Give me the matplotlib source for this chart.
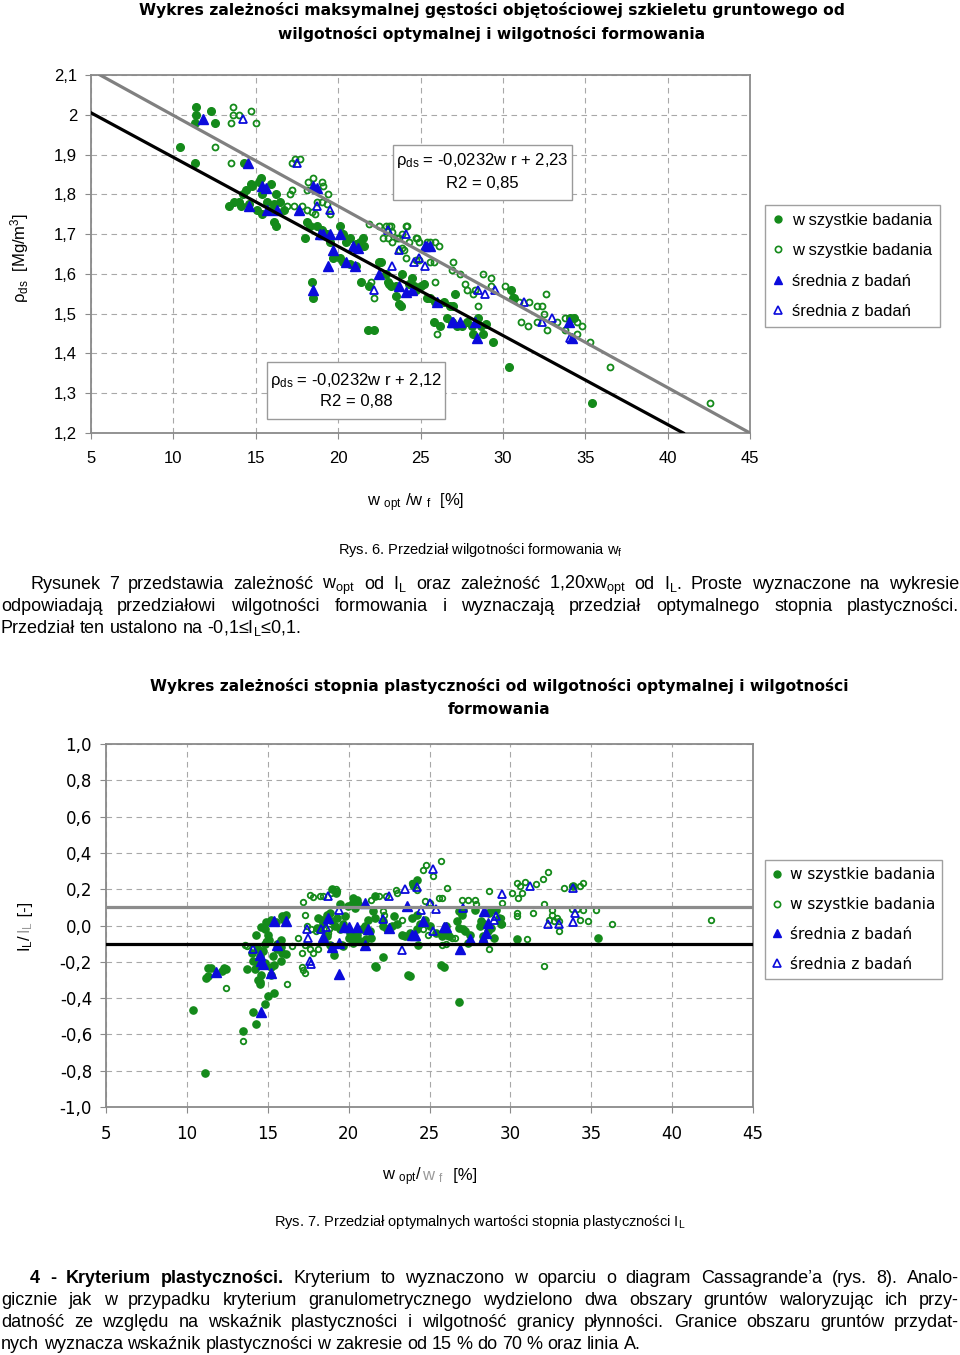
import numpy as np
import matplotlib
matplotlib.use('Agg')
import matplotlib.pyplot as plt
from matplotlib.lines import Line2D
from matplotlib.patches import Rectangle

plt.rcParams['mathtext.default'] = 'regular'

###--- Data ---###
x_ticks = [5, 10, 15, 20, 25, 30, 35, 40, 45]
x_ticklabels = ['5', '10', '15', '20', '25', '30', '35', '40', '45']

y1_ticks = [1.2, 1.3, 1.4, 1.5, 1.6, 1.7, 1.8, 1.9, 2.0, 2.1]
y1_labels = ['1,2', '1,3', '1,4', '1,5', '1,6', '1,7', '1,8', '1,9', '2', '2,1']

y2_ticks = [-1.0, -0.8, -0.6, -0.4, -0.2, 0.0, 0.2, 0.4, 0.6, 0.8, 1.0]
y2_labels = ['-1,0', '-0,8', '-0,6', '-0,4', '-0,2', '0,0', '0,2', '0,4', '0,6', '0,8', '1,0']

legend_labels = ['w szystkie badania', 'w szystkie badania', 'średnia z badań', 'średnia z badań']

# Rys. 6 - maximum dry density vs moisture
r6_all_x = [11.4, 11.4, 12.3, 11.3, 12.5, 10.4, 11.3, 14.3, 15.3, 15.2, 14.7, 14.4, 14.8, 15.9, 15.4, 14.2,
            16.2, 14.0, 13.7, 13.4, 14.1, 14.6, 15.1, 15.4, 15.9, 16.1, 15.7, 16.1, 16.2, 16.5, 16.7, 18.0,
            18.1, 18.3, 18.7, 19.0, 19.3, 19.5, 20.1, 20.3, 20.5, 20.7, 21.1, 21.3, 21.5, 21.6, 19.7, 20.1,
            20.3, 20.7, 21.1, 21.4, 21.9, 22.5, 22.9, 23.1, 23.5, 23.9, 23.7, 24.3, 24.7, 25.2, 18.4, 18.5,
            23.8, 23.5, 24.5, 24.6, 25.0, 23.0, 23.2, 22.6,
            25.4, 25.6, 25.9, 26.4, 26.8, 27.0, 27.1, 25.8, 26.2, 26.6, 26.9, 27.2, 27.5, 27.8, 28.1, 28.2,
            28.5, 28.7, 28.8, 29.0, 29.4, 30.5, 30.6, 30.7, 34.1, 34.3, 30.4, 35.4, 21.8, 22.2]
r6_all_y = [2.02, 2.00, 2.01, 1.98, 1.98, 1.92, 1.88, 1.88, 1.84, 1.83, 1.825, 1.81, 1.82, 1.825, 1.80, 1.80,
            1.80, 1.78, 1.78, 1.77, 1.77, 1.775, 1.76, 1.75, 1.76, 1.775, 1.78, 1.73, 1.72, 1.78, 1.76, 1.69,
            1.73, 1.72, 1.72, 1.71, 1.70, 1.68, 1.72, 1.70, 1.68, 1.69, 1.675, 1.68, 1.69, 1.67, 1.64, 1.64,
            1.63, 1.625, 1.62, 1.58, 1.57, 1.63, 1.60, 1.575, 1.57, 1.60, 1.525, 1.575, 1.56, 1.575, 1.58, 1.54,
            1.52, 1.545, 1.59, 1.57, 1.57, 1.58, 1.57, 1.63,
            1.54, 1.54, 1.53, 1.53, 1.52, 1.52, 1.55, 1.48, 1.47, 1.49, 1.48, 1.47, 1.47, 1.48, 1.47, 1.45,
            1.49, 1.47, 1.45, 1.475, 1.43, 1.56, 1.54, 1.54, 1.49, 1.49, 1.365, 1.275, 1.46, 1.46]

r6_form_x = [13.6, 13.6, 14.0, 14.7, 13.5, 15.0, 12.5, 13.5, 17.4, 17.2, 17.7, 18.2, 18.5, 19.0, 19.1, 19.4,
             18.1, 17.2, 17.1, 16.9, 17.3, 17.8, 18.1, 18.4, 18.7, 19.0, 19.3, 19.5, 18.6, 21.9, 22.5, 22.9,
             23.1, 23.3, 23.9, 24.1, 23.7, 22.7, 23.9, 24.3, 24.7, 24.9, 24.1, 24.7, 23.7, 24.9, 25.4, 22.0,
             22.2, 23.2, 24.2, 23.0, 23.3, 23.6, 24.0, 24.8,
             25.6, 25.9, 26.1, 25.6, 25.8, 27.0, 26.9, 27.4, 25.9, 27.7, 27.8, 28.2, 28.3, 28.8, 29.3, 29.3,
             30.1, 28.5, 31.0, 31.6, 32.1, 32.4, 32.6, 31.1, 31.5, 32.1, 32.5, 32.7, 33.3, 33.8, 33.8, 34.5,
             34.8, 34.5, 35.3, 36.5, 42.6, 26.0]
r6_form_y = [2.02, 2.00, 2.00, 2.01, 1.98, 1.98, 1.92, 1.88, 1.89, 1.88, 1.89, 1.83, 1.84, 1.83, 1.82, 1.80,
             1.81, 1.81, 1.80, 1.77, 1.77, 1.77, 1.76, 1.755, 1.78, 1.78, 1.775, 1.75, 1.75, 1.725, 1.72, 1.72,
             1.72, 1.705, 1.70, 1.72, 1.69, 1.69, 1.665, 1.68, 1.69, 1.68, 1.64, 1.635, 1.66, 1.635, 1.68, 1.58,
             1.54, 1.72, 1.72, 1.69, 1.68, 1.69, 1.66, 1.69,
             1.68, 1.68, 1.67, 1.63, 1.63, 1.63, 1.61, 1.60, 1.58, 1.575, 1.56, 1.55, 1.56, 1.60, 1.59, 1.57,
             1.57, 1.52, 1.53, 1.53, 1.52, 1.52, 1.55, 1.48, 1.47, 1.48, 1.50, 1.46, 1.48, 1.49, 1.46, 1.48,
             1.47, 1.45, 1.43, 1.365, 1.275, 1.45]

r6_mean_x = [11.8, 14.5, 15.4, 15.6, 14.6, 15.7, 16.3, 17.6, 18.5, 18.7, 18.9, 19.1, 19.5, 20.1, 19.7, 19.4,
             20.5, 21.0, 20.9, 21.2, 18.5, 22.5, 23.7, 24.1, 24.5, 25.6, 25.3, 26.0, 26.9, 27.4, 28.3, 28.4,
             34.0, 34.2, 27.0]
r6_mean_y = [1.99, 1.88, 1.82, 1.815, 1.77, 1.76, 1.76, 1.76, 1.82, 1.815, 1.70, 1.70, 1.70, 1.70, 1.66, 1.62,
             1.63, 1.62, 1.67, 1.665, 1.56, 1.60, 1.57, 1.555, 1.56, 1.67, 1.67, 1.53, 1.48, 1.48, 1.48, 1.44,
             1.48, 1.44, 1.48]

r6_meanf_x = [14.2, 17.5, 18.7, 19.5, 23.3, 23.7, 24.1, 22.2, 24.9, 25.3, 25.4, 28.5, 28.9, 29.5, 31.3, 32.4,
              33.0, 34.1, 23.0, 24.6]
r6_meanf_y = [1.99, 1.88, 1.77, 1.76, 1.62, 1.66, 1.70, 1.56, 1.64, 1.62, 1.67, 1.56, 1.55, 1.56, 1.53, 1.48,
              1.49, 1.44, 1.71, 1.63]

# trend lines (end points)
r6_line_f_x = [5.55, 45.0]
r6_line_f_y = [2.10, 1.20]
r6_line_o_x = [5.0, 40.95]
r6_line_o_y = [2.005, 1.20]

# Rys. 7 - liquidity index vs moisture
r7_all_x = [10.4, 11.1, 11.3, 11.5, 11.2, 11.3, 12.3, 12.4, 12.2, 13.5, 14.1, 14.3, 14.8, 15.0, 15.4, 14.4,
            14.5, 14.6, 14.5, 15.2, 15.2, 15.4, 13.7, 14.2, 14.4, 14.8, 14.1, 14.5, 14.0, 14.4, 14.7, 15.3,
            15.8, 15.9, 16.1, 15.6, 15.8, 14.3, 14.6, 14.9, 15.2, 15.5, 15.9, 16.0, 16.1, 14.8, 15.0, 15.1,
            14.8, 15.8, 15.6,
            18.13, 18.33, 18.44, 18.02, 18.23, 18.64, 18.85, 18.95, 19.26, 19.16, 19.47, 19.67, 19.77, 19.98,
            20.19, 20.39, 20.6, 20.5, 19.47, 18.64, 18.85, 19.1,
            20.08, 20.29, 20.49, 20.8, 21.0, 21.3, 21.4, 21.1, 20.7, 20.3, 20.0, 19.57, 19.67, 21.2, 21.6,
            21.5, 21.6, 22.1,
            22.1, 22.4, 22.7, 23.0, 23.3, 23.5, 23.8, 24.2, 24.3, 24.4, 24.7, 25.0, 25.4, 25.8, 22.1, 22.8,
            23.9, 24.2, 23.7, 25.7, 21.7, 23.8, 25.9, 26.8,
            19.0, 19.2, 20.3, 21.6, 24.2, 24.0,
            26.0, 26.1, 26.2, 26.7, 26.8, 27.0, 27.1, 26.8, 27.1, 27.2, 27.4, 27.5, 27.8, 28.1, 28.2, 28.3,
            28.4, 28.7, 28.8, 28.8, 29.0, 29.1, 29.3, 29.4, 28.6, 28.3, 30.4, 35.4, 33.9]
r7_all_y = [-0.466, -0.81, -0.233, -0.233, -0.29, -0.28, -0.235, -0.24, -0.25, -0.58, -0.475, -0.54, -0.43,
            -0.39, -0.37, -0.30, -0.31, -0.275, -0.32, -0.275, -0.23, -0.215, -0.24, -0.24, -0.215, -0.205,
            -0.195, -0.17, -0.15, -0.13, -0.14, -0.17, -0.195, -0.15, -0.155, -0.13, -0.12, -0.05, -0.01,
            0.02, 0.03, 0.02, 0.05, 0.03, 0.06, -0.02, -0.05, -0.08, -0.10, -0.08, -0.10,
            0.042, 0.033, 0.006, -0.013, -0.022, 0.06, 0.07, 0.024, 0.042, -0.004, -0.022, 0.011, 0.051,
            0.106, 0.116, 0.097, 0.116, 0.143, 0.116, -0.059, -0.105, -0.165,
            -0.04, -0.068, -0.05, -0.022, -0.004, -0.031, -0.068, -0.077, -0.086, -0.095, -0.068, -0.105,
            -0.114, 0.033, 0.042, 0.079, -0.224, -0.172,
            -0.004, -0.022, -0.004, 0.006, -0.05, -0.059, -0.04, -0.022, -0.11, 0.006, 0.033, -0.004, -0.04,
            -0.059, 0.024, 0.051, 0.042, 0.06, -0.275, -0.215, -0.23, -0.28, -0.226, -0.42,
            0.20, 0.18, 0.15, 0.16, 0.25, 0.23,
            -0.004, -0.05, -0.06, 0.024, 0.079, 0.06, 0.088, -0.013, -0.022, -0.031, -0.095, -0.05, 0.088,
            -0.004, 0.024, -0.059, 0.006, 0.07, 0.088, -0.013, -0.068, 0.088, 0.042, 0.006, -0.031, -0.086,
            -0.077, -0.07, 0.22]

r7_form_x = [13.5, 12.4, 16.2, 17.1, 17.2, 13.6, 13.7, 14.1, 14.9, 16.5, 16.9, 17.3, 17.1, 17.6, 17.8, 18.1,
             17.3, 17.2, 17.6, 17.8, 18.2, 18.4, 18.9, 19.2, 19.3, 17.4, 17.7, 18.0, 18.7, 18.8, 21.4, 21.9,
             22.3, 22.9, 23.0, 23.9, 24.0, 24.2, 24.6, 24.8, 25.2, 25.7, 24.7, 25.0, 25.6, 24.6, 24.9, 25.8,
             26.4, 23.3, 22.1, 22.2,
             26.1, 25.8, 27.0, 27.4, 27.8, 27.9, 26.0, 26.6, 28.7, 29.5, 29.4, 29.5, 28.7, 30.1, 30.4, 30.6,
             30.9, 31.6, 30.5, 30.7, 32.0, 32.3, 30.4, 30.4, 31.4, 32.1, 32.6, 32.6, 32.4, 32.9, 32.7, 33.0,
             33.0, 31.0, 32.1, 33.3, 33.8, 34.3, 34.5, 33.8, 34.1, 34.5, 35.3, 34.3, 34.8, 36.3, 42.4, 17.3]
r7_form_y = [-0.637, -0.343, -0.325, -0.228, -0.246, -0.105, -0.114, -0.123, -0.086, -0.114, -0.068, -0.105,
             -0.15, -0.132, -0.15, -0.128, 0.06, 0.128, 0.17, 0.158, 0.16, 0.16, 0.18, 0.20, 0.19, -0.004,
             -0.022, -0.031, -0.04, -0.022, 0.143, 0.16, 0.16, 0.198, 0.18, 0.235, 0.217, 0.198, 0.308, 0.336,
             0.275, 0.354, 0.134, 0.125, 0.152, -0.022, -0.05, -0.105, -0.068, 0.033, 0.079, 0.06,
             0.207, 0.152, 0.143, 0.143, 0.143, 0.116, -0.10, -0.068, 0.189, 0.125, 0.042, 0.006, -0.13, 0.18,
             0.235, 0.217, 0.24, 0.226, 0.152, 0.18, 0.257, 0.294, 0.07, 0.051, 0.07, 0.116, 0.088, 0.06, 0.033,
             0.042, 0.024, 0.024, -0.028, -0.077, -0.224, 0.207, 0.22, 0.22, 0.235, 0.092, 0.092, 0.084, 0.084,
             0.033, 0.024, 0.01, 0.028, -0.26]

r7_mean_x = [11.8, 14.6, 15.2, 14.5, 14.6, 15.6, 15.4, 16.1, 19.4, 18.7, 18.4, 19.0, 19.4, 19.7, 20.0, 20.5,
             21.0, 21.0, 21.2, 22.5, 23.6, 23.9, 24.1, 24.6, 25.9, 26.0, 26.9, 27.5, 28.3, 28.5, 28.4, 28.6,
             14.7]
r7_mean_y = [-0.257, -0.475, -0.26, -0.16, -0.196, -0.105, 0.027, 0.027, -0.266, 0.042, -0.062, -0.117, -0.099,
             -0.007, -0.007, -0.007, 0.125, -0.105, -0.022, -0.013, 0.11, -0.055, -0.055, 0.027, -0.007, -0.01,
             -0.13, -0.077, -0.077, -0.04, 0.08, 0.015, -0.21]

r7_meanf_x = [14.1, 17.6, 17.4, 17.5, 18.3, 18.6, 18.7, 19.4, 22.1, 22.5, 23.3, 23.5, 24.2, 25.2, 24.5, 25.0,
              25.4, 25.2, 27.1, 29.5, 29.0, 29.1, 31.2, 32.3, 33.0, 33.9, 34.0, 33.9, 17.7]
r7_meanf_y = [-0.128, -0.196, -0.017, -0.068, -0.022, -0.007, 0.16, 0.084, 0.037, 0.16, -0.136, 0.20, 0.21, 0.31,
              0.088, 0.125, 0.092, -0.03, 0.097, 0.176, 0.033, 0.051, 0.217, 0.006, 0.011, 0.207, 0.07, 0.018,
              -0.21]

r7_upper = 0.1
r7_lower = -0.1

###--- Page setup ---###
W, H = 960, 1355
def fx(px): return px / W
def fy(py): return 1 - py / H

green = '#148a1a'
blue = '#0b0bdc'
gray = '#8a8a8a'
gridc = '#a8a8a8'
arial = ['Liberation Sans', 'DejaVu Sans']
verd = ['DejaVu Sans']
narrow = ['Liberation Sans Narrow', 'Liberation Sans', 'DejaVu Sans']

fig = plt.figure(figsize=(9.6, 13.55), dpi=100)
renderer = fig.canvas.get_renderer()


def style_axes(ax, yt, ylab, fam):
    ax.set_xlim(5, 45)
    ax.set_xticks(x_ticks)
    ax.set_xticklabels(x_ticklabels)
    ax.set_yticks(yt)
    ax.set_yticklabels(ylab)
    ax.grid(True, ls=(0, (5, 4)), color=gridc, lw=0.8)
    ax.set_axisbelow(True)
    for s in ax.spines.values():
        s.set_color(gray)
        s.set_linewidth(1.3)
    ax.tick_params(axis='both', direction='out', length=4, color=gray, labelsize=12,
                   labelfontfamily=fam)
    ax.tick_params(axis='x', pad=9)
    ax.tick_params(axis='y', pad=6)


def draw_points(ax, s_all, s_form, s_mean, s_meanf, ms=5.5):
    ax.plot(*s_all, ls='none', marker='o', ms=ms, mfc=green, mec=green, zorder=3)
    ax.plot(*s_form, ls='none', marker='o', ms=ms - 1.2, mfc='none', mec=green, mew=1.3, zorder=3)
    ax.plot(*s_mean, ls='none', marker='^', ms=ms + 1.5, mfc=blue, mec=blue, zorder=4)
    ax.plot(*s_meanf, ls='none', marker='^', ms=ms, mfc='none', mec=blue, mew=1.3, zorder=4)


def legend_handles(ms=5):
    return [Line2D([], [], ls='none', marker='o', ms=ms - 1, mfc=green, mec=green),
            Line2D([], [], ls='none', marker='o', ms=ms - 1.5, mfc='none', mec=green, mew=1.2),
            Line2D([], [], ls='none', marker='^', ms=ms, mfc=blue, mec=blue),
            Line2D([], [], ls='none', marker='^', ms=ms - 0.5, mfc='none', mec=blue, mew=1.2)]


def pieces(x, y, parts, size, family, rotation=0):
    # place text parts one after another (horizontal or rotated 90)
    pos = 0.0
    for s, col in parts:
        t = fig.text(0, 0, s, fontsize=size, family=family, color=col,
                     ha='left', va='baseline')
        w = t.get_window_extent(renderer).width
        if rotation == 0:
            t.set_position((fx(x + pos), fy(y)))
        else:
            t.set_rotation(90)
            t.set_rotation_mode('anchor')
            t.set_position((fx(x), fy(y - pos)))
        pos += w


def box_text(x0, x1, y0, y1, line1, line2, yl1, yl2):
    fig.add_artist(Rectangle((fx(x0), fy(y1)), (x1 - x0) / W, (y1 - y0) / H,
                             transform=fig.transFigure, fc='white', ec='#9a9a9a', lw=1.0, zorder=2.5))
    xc = (x0 + x1) / 2
    fig.text(fx(xc), fy(yl1), line1, ha='center', va='center', fontsize=12, family=arial, zorder=3)
    fig.text(fx(xc), fy(yl2), line2, ha='center', va='center', fontsize=12, family=arial, zorder=3)


###--- Rys. 6 ---###
fig.text(fx(492), fy(10), 'Wykres zależności maksymalnej gęstości objętościowej szkieletu gruntowego od',
         ha='center', va='center', fontsize=11.2, weight='bold', family=verd)
fig.text(fx(492), fy(34), 'wilgotności optymalnej i wilgotności formowania',
         ha='center', va='center', fontsize=11.2, weight='bold', family=verd)

ax1 = fig.add_axes([fx(91), fy(433), (750 - 91) / W, (433 - 75) / H])
style_axes(ax1, y1_ticks, y1_labels, arial)
ax1.set_ylim(1.2, 2.1)
draw_points(ax1, (r6_all_x, r6_all_y), (r6_form_x, r6_form_y),
            (r6_mean_x, r6_mean_y), (r6_meanf_x, r6_meanf_y), ms=5.5)
ax1.plot(r6_line_f_x, r6_line_f_y, color='#808080', lw=2.3, zorder=5)
ax1.plot(r6_line_o_x, r6_line_o_y, color='black', lw=2.3, zorder=5)

box_text(393, 572, 145, 200, 'ρ$_{ds}$ = -0,0232w r + 2,23', 'R2 = 0,85', 160, 183)
box_text(267, 445, 362, 419, 'ρ$_{ds}$ = -0,0232w r + 2,12', 'R2 = 0,88', 380, 402)

fig.legend(handles=legend_handles(6), labels=legend_labels, loc='upper left',
           bbox_to_anchor=(fx(765), fy(205)), bbox_transform=fig.transFigure, borderaxespad=0,
           frameon=True, fancybox=False, edgecolor='#a0a0a0', framealpha=1,
           prop={'family': arial, 'size': 12}, handlelength=0.7, handletextpad=0.5,
           labelspacing=0.93, borderpad=0.45)

fig.text(fx(20), fy(258), 'ρ$_{ds}$  [Mg/m$^{3}$]', rotation=90, ha='center', va='center',
         fontsize=12, family=arial)
fig.text(fx(416), fy(503), 'w $_{opt}$ /w $_{f}$  [%]', ha='center', va='center',
         fontsize=12, family=arial)

fig.text(fx(480), fy(554), 'Rys. 6. Przedział wilgotności formowania w$_{f}$', ha='center',
         va='baseline', fontsize=10.5, family=narrow)


###--- Body text (justified) ---###
def measure(words, size, weights=None):
    tot = 0.0
    for i, w in enumerate(words):
        wt = weights[i] if weights else 'normal'
        t = fig.text(0, 0, w, fontsize=size, family=narrow, weight=wt)
        tot += t.get_window_extent(renderer).width
        t.remove()
    return tot


def justify(words, ybase, x0, x1, size, weights=None, full=True):
    objs, widths = [], []
    for i, w in enumerate(words):
        wt = weights[i] if weights else 'normal'
        t = fig.text(0, fy(ybase), w, fontsize=size, family=narrow, weight=wt,
                     ha='left', va='baseline')
        objs.append(t)
        widths.append(t.get_window_extent(renderer).width)
    if full and len(words) > 1:
        gap = (x1 - x0 - sum(widths)) / (len(words) - 1)
    else:
        gap = size * 0.26 * 100 / 72
    x = x0
    for t, wd in zip(objs, widths):
        t.set_x(fx(x))
        x += wd + gap


p1 = [('Rysunek 7 przedstawia zależność w$_{opt}$ od I$_{L}$ oraz zależność 1,20xw$_{opt}$ od I$_{L}$. '
       'Proste wyznaczone na wykresie', 30, True),
      ('odpowiadają przedziałowi wilgotności formowania i wyznaczają przedział optymalnego stopnia '
       'plastyczności.', 1, True),
      ('Przedział ten ustalono na -0,1≤I$_{L}$≤0,1.', 1, False)]
p2 = [('4 - Kryterium plastyczności. Kryterium to wyznaczono w oparciu o diagram Cassagrande’a (rys. 8). '
       'Analo-', 30, True),
      ('gicznie jak w przypadku kryterium granulometrycznego wydzielono dwa obszary gruntów waloryzując '
       'ich przy-', 1, True),
      ('datność ze względu na wskaźnik plastyczności i wilgotność granicy płynności. Granice obszaru '
       'gruntów przydat-', 1, True),
      ('nych wyznacza wskaźnik plastyczności w zakresie od 15 % do 70 % oraz linia A.', 1, False)]
bold_p2 = ['bold'] * 4

body_size = 13.0
for s, x0, full in p1 + p2:
    ws = s.split(' ')
    need = measure(ws, body_size) + 3 * (len(ws) - 1)
    if full and need > 959 - x0:
        body_size = body_size * (959 - x0) / need

for (s, x0, full), yb in zip(p1, [589, 611, 633]):
    justify(s.split(' '), yb, x0, 959, body_size, full=full)
for k, ((s, x0, full), yb) in enumerate(zip(p2, [1283, 1305, 1327, 1349])):
    ws = s.split(' ')
    wts = None
    if k == 0:
        wts = bold_p2 + ['normal'] * (len(ws) - 4)
    justify(ws, yb, x0, 959, body_size, weights=wts, full=full)


###--- Rys. 7 ---###
fig.text(fx(499), fy(686), 'Wykres zależności stopnia plastyczności od wilgotności optymalnej i wilgotności',
         ha='center', va='center', fontsize=11.1, weight='bold', family=verd)
fig.text(fx(499), fy(710), 'formowania', ha='center', va='center', fontsize=11.1, weight='bold',
         family=verd)

ax2 = fig.add_axes([fx(106), fy(1107), (753 - 106) / W, (1107 - 744) / H])
style_axes(ax2, y2_ticks, y2_labels, verd)
ax2.set_ylim(-1.0, 1.0)
draw_points(ax2, (r7_all_x, r7_all_y), (r7_form_x, r7_form_y),
            (r7_mean_x, r7_mean_y), (r7_meanf_x, r7_meanf_y), ms=5.2)
ax2.axhline(r7_upper, color='#8c8c8c', lw=2.3, zorder=5)
ax2.axhline(r7_lower, color='black', lw=2.3, zorder=5)

fig.legend(handles=legend_handles(6), labels=legend_labels, loc='upper left',
           bbox_to_anchor=(fx(765), fy(860)), bbox_transform=fig.transFigure, borderaxespad=0,
           frameon=True, fancybox=False, edgecolor='#a0a0a0', framealpha=1,
           prop={'family': verd, 'size': 11}, handlelength=0.7, handletextpad=0.5,
           labelspacing=0.98, borderpad=0.45)

pieces(30, 952, [('I$_{L}$/', 'black'), ('I$_{L}$', '#9a9a9a'), (' [-]', 'black')], 12, arial, rotation=90)
pieces(382, 1180, [('w $_{opt}$/', 'black'), ('w $_{f}$', '#9a9a9a'), ('  [%]', 'black')], 12, arial)

fig.text(fx(480), fy(1226), 'Rys. 7. Przedział optymalnych wartości stopnia plastyczności I$_{L}$',
         ha='center', va='baseline', fontsize=10.5, family=narrow)

fig.savefig('out.png', dpi=100)
